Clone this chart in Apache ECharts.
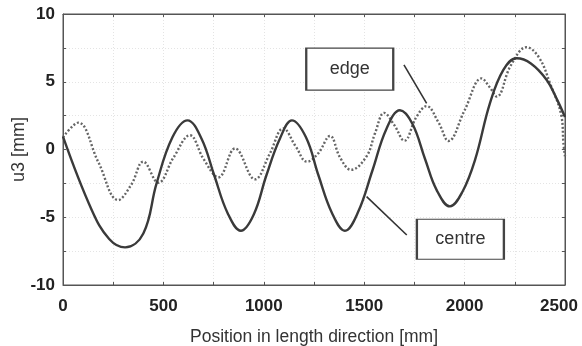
<!DOCTYPE html>
<html>
<head>
<meta charset="utf-8">
<script src="https://cdn.jsdelivr.net/npm/echarts@6/dist/echarts.min.js"></script>
<style>
html,body{margin:0;padding:0;background:#fff;}
#chart{width:582px;height:346px;}
</style>
</head>
<body>
<div id="chart"></div>
<script>
// Data
var centreX = [0, 143, 230, 309, 400, 466, 545, 620, 690, 753, 820, 886, 950, 1013, 1080, 1140, 1210, 1272, 1340, 1404, 1470, 1541, 1610, 1678, 1740, 1803, 1861, 1927, 1990, 2052, 2126, 2193, 2259, 2330, 2409, 2460, 2500];
var centreY = [0.95, -4.46, -6.6, -7.22, -6.2, -2.5, 0.9, 2.15, 0.8, -1.9, -4.7, -6.0, -4.8, -1.9, 0.8, 2.15, 0.9, -1.9, -4.7, -6.0, -4.6, -1.55, 1.5, 2.9, 1.9, -0.7, -3.0, -4.2, -3.1, -0.77, 3.4, 5.87, 6.73, 6.35, 5.13, 3.7, 2.4];

var edgeX = [0, 76, 175, 275, 340, 400, 475, 550, 632, 700, 774, 857, 956, 1030, 1097, 1160, 1215, 1270, 1330, 1380, 1435, 1512, 1554, 1600, 1650, 1700, 1760, 1811, 1870, 1920, 2000, 2085, 2125, 2160, 2230, 2309, 2370, 2425, 2483, 2492, 2500];
var edgeY = [0.9, 1.98, -0.9, -3.73, -2.6, -0.9, -2.45, -0.6, 1.05, -0.7, -2.05, 0.08, -2.2, -0.3, 1.56, 0.2, -0.9, -0.3, 1.0, -0.6, -1.5, -0.5, 1.2, 2.7, 1.8, 0.65, 2.4, 3.2, 2.0, 0.63, 2.9, 5.25, 4.6, 3.9, 6.2, 7.55, 6.8, 4.9, 2.4, 0.5, -0.5];

var xTickLabels = ['0', '500', '1000', '1500', '2000', '2500'];
var yTickLabels = ['-10', '-5', '0', '5', '10'];

// Annotation anchors (data coordinates)
var edgeLabel = {text: 'edge', at: [1428, 5.93], leader: [[1698, 6.24], [1811, 3.41]]};
var centreLabel = {text: 'centre', at: [1979, -6.62], leader: [[1512, -3.48], [1712, -6.31]]};

function pairs(xs, ys) { return xs.map(function (x, i) { return [x, ys[i]]; }); }

var chart = echarts.init(document.getElementById('chart'));
var fontFam = '"Liberation Sans", Arial, sans-serif';
var axisCol = '#555';

function annot(a, w, h) {
  return {
    markPoint: {
      silent: true,
      symbol: 'rect',
      symbolSize: [w, h],
      itemStyle: {color: '#fff', borderColor: '#444', borderWidth: 1.6},
      label: {show: true, position: 'inside', formatter: a.text, color: '#333', fontSize: 18, fontFamily: fontFam},
      data: [{coord: a.at}]
    },
    markLine: {
      silent: true,
      symbol: ['none', 'none'],
      label: {show: false},
      lineStyle: {color: '#333', width: 1.6, type: 'solid'},
      data: [[{coord: a.leader[0]}, {coord: a.leader[1]}]]
    }
  };
}

var centreSeries = {
  type: 'line', name: 'centre', data: pairs(centreX, centreY), smooth: 0.4, showSymbol: false,
  lineStyle: {color: '#3a3a3a', width: 2.4}, z: 3
};
Object.assign(centreSeries, annot(centreLabel, 87, 40));

var edgeSeries = {
  type: 'line', name: 'edge', data: pairs(edgeX, edgeY), smooth: 0.4, showSymbol: false,
  lineStyle: {color: '#666', width: 2.4, type: [2, 2]}, z: 2
};
Object.assign(edgeSeries, annot(edgeLabel, 87, 42));

function fmtX(v) {
  var s = String(v);
  if (xTickLabels.indexOf(s) < 0) return '';
  return s === xTickLabels[xTickLabels.length - 1] ? '{last|' + s + '}' : s;
}
function fmtY(v) { return yTickLabels.indexOf(String(v)) >= 0 ? String(v) : ''; }

var tickStyle = {show: true, inside: true, length: 3, lineStyle: {color: axisCol}};
var lineStyleAxis = {show: true, onZero: false, lineStyle: {color: axisCol, width: 1}};

chart.setOption({
  animation: false,
  backgroundColor: '#fff',
  grid: {left: 63, right: 17, top: 14, bottom: 61, show: true, borderColor: axisCol, borderWidth: 1, containLabel: false, outerBoundsMode: 'none'},
  xAxis: [{
    type: 'value', min: 0, max: 2500, interval: 250, position: 'bottom',
    axisLine: lineStyleAxis, axisTick: tickStyle,
    axisLabel: {formatter: fmtX, color: '#222', fontWeight: 'bold', fontSize: 17, fontFamily: fontFam, margin: 13,
      rich: {last: {color: '#222', fontWeight: 'bold', fontSize: 17, fontFamily: fontFam, padding: [0, 12, 0, 0]}}},
    splitLine: {show: true, lineStyle: {color: '#e4e4e4', type: [1, 2], width: 1}},
    name: 'Position in length direction [mm]', nameLocation: 'middle', nameGap: 43, nameMoveOverlap: false,
    nameTextStyle: {color: '#333', fontSize: 17.5, fontFamily: fontFam}
  }, {
    type: 'value', min: 0, max: 2500, interval: 250, position: 'top',
    axisLine: lineStyleAxis, axisTick: tickStyle,
    axisLabel: {show: false}, splitLine: {show: false}
  }],
  yAxis: [{
    type: 'value', min: -10, max: 10, interval: 2.5, position: 'left',
    axisLine: lineStyleAxis, axisTick: tickStyle,
    axisLabel: {formatter: fmtY, color: '#222', fontWeight: 'bold', fontSize: 17, fontFamily: fontFam, margin: 8},
    splitLine: {show: true, lineStyle: {color: '#e4e4e4', type: [1, 2], width: 1}},
    name: 'u3 [mm]', nameLocation: 'middle', nameGap: 35, nameMoveOverlap: false,
    nameTextStyle: {color: '#333', fontSize: 18, fontFamily: fontFam}
  }, {
    type: 'value', min: -10, max: 10, interval: 2.5, position: 'right',
    axisLine: lineStyleAxis, axisTick: tickStyle,
    axisLabel: {show: false}, splitLine: {show: false}
  }],
  series: [edgeSeries, centreSeries]
});
</script>
</body>
</html>
